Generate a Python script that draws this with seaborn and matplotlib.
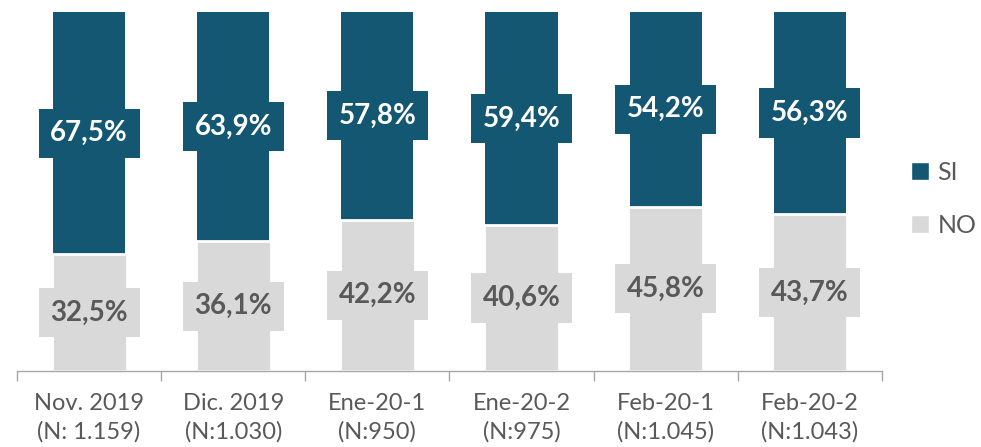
import matplotlib
matplotlib.use("Agg")
import matplotlib.pyplot as plt
from matplotlib.patches import Patch
from matplotlib.ticker import FixedLocator
import seaborn as sns
import pandas as pd
import numpy as np

categories = ["Nov. 2019\n(N: 1.159)", "Dic. 2019\n(N:1.030)", "Ene-20-1\n(N:950)",
              "Ene-20-2\n(N:975)", "Feb-20-1\n(N:1.045)", "Feb-20-2\n(N:1.043)"]
si_values = [67.5, 63.9, 57.8, 59.4, 54.2, 56.3]
no_values = [32.5, 36.1, 42.2, 40.6, 45.8, 43.7]

SI_COLOR = "#135773"
NO_COLOR = "#D9D9D9"
TEXT_GREY = "#595959"

sns.set_theme(style="white")
plt.rcParams["font.family"] = ["Lato", "DejaVu Sans"]

df = pd.DataFrame({"cat": categories, "si": si_values, "no": no_values})
df["total"] = df["si"] + df["no"]

fig = plt.figure(figsize=(9.81, 4.47), dpi=100)
ax = fig.add_axes([0.0173, 0.170, 0.8817, 0.803])

sns.barplot(data=df, x="cat", y="total", color=SI_COLOR, width=0.5,
            saturation=1, ax=ax, linewidth=0)
sns.barplot(data=df, x="cat", y="no", color=NO_COLOR, width=0.52,
            saturation=1, ax=ax, edgecolor="white", linewidth=2)

for i, (s, n) in enumerate(zip(si_values, no_values)):
    ax.text(i, n + s / 2, f"{s:.1f}%".replace(".", ","), ha="center", va="center",
            color="white", fontsize=20, fontweight="bold",
            bbox=dict(boxstyle="square,pad=0.42", fc=SI_COLOR, ec="none"))
    ax.text(i, n / 2, f"{n:.1f}%".replace(".", ","), ha="center", va="center",
            color=TEXT_GREY, fontsize=20, fontweight="bold",
            bbox=dict(boxstyle="square,pad=0.42", fc=NO_COLOR, ec="none"))

ax.set_xlim(-0.5, len(categories) - 0.5)
ax.set_ylim(0, 100)
ax.set_xlabel("")
ax.set_ylabel("")
ax.set_yticks([])
for side in ["top", "right", "left"]:
    ax.spines[side].set_visible(False)
ax.spines["bottom"].set_color("#A6A6A6")
ax.spines["bottom"].set_linewidth(1)
ax.spines["bottom"].set_zorder(5)

ax.xaxis.set_minor_locator(FixedLocator(np.arange(-0.5, len(categories), 1.0)))
ax.tick_params(axis="x", which="major", length=0, pad=16, labelsize=17,
               labelcolor=TEXT_GREY)
ax.tick_params(axis="x", which="minor", bottom=True, length=7, width=1,
               color="#A6A6A6", direction="out")
for lbl in ax.get_xticklabels():
    lbl.set_linespacing(1.4)

handles = [Patch(facecolor=SI_COLOR, label="SI"), Patch(facecolor=NO_COLOR, label="NO")]
fig.legend(handles=handles, loc="center left", bbox_to_anchor=(0.929, 0.555),
           frameon=False, fontsize=18, labelcolor=TEXT_GREY, handlelength=0.7,
           handleheight=0.7, handletextpad=0.35, labelspacing=1.2,
           borderpad=0, borderaxespad=0)

fig.savefig("out.png", dpi=100)
